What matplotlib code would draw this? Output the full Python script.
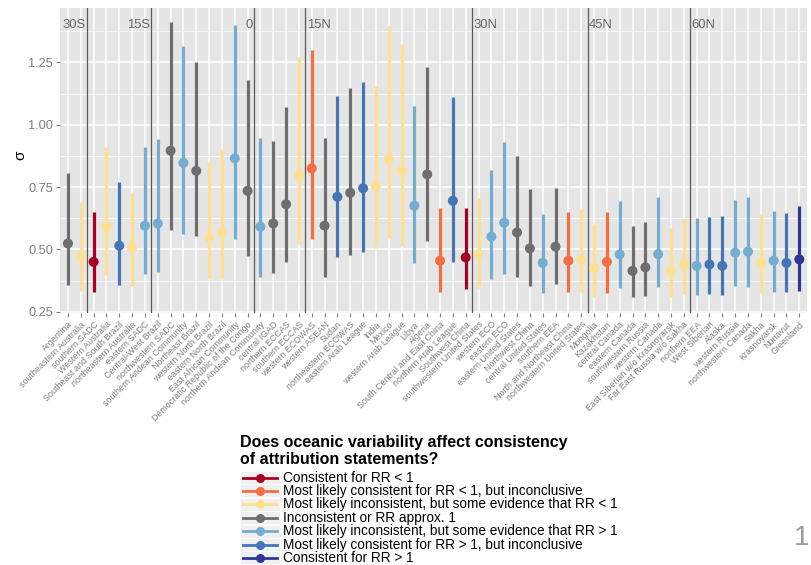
import numpy as np
import matplotlib
matplotlib.use('Agg')
import matplotlib.pyplot as plt
from matplotlib.lines import Line2D
from matplotlib.patches import Rectangle

plt.rcParams['font.family'] = ['Liberation Sans', 'DejaVu Sans']

regions = [
    'Argentina', 'southeastern Australia', 'southern SADC', 'Western Australia',
    'Southeast and South Brazil', 'northeastern Australia', 'eastern SADC',
    'Central-West Brazil', 'northwestern SADC', 'southern Andean Community',
    'Northeast Brazil', 'western North Brazil', 'eastern North Brazil',
    'East African Community', 'Democratic Republic of the Congo',
    'northern Andean Community', 'central IGAD', 'northern ECCAS', 'southern ECCAS',
    'western ECOWAS', 'western ASEAN', 'Sudan', 'northeastern ECOWAS',
    'eastern Arab League', 'India', 'Mexico', 'western Arab League', 'Libya',
    'Algeria', 'South Central and East China', 'northern Arab League',
    'Southwest China', 'southwestern United States', 'western ECO', 'eastern ECO',
    'eastern United States', 'Northwest China', 'central United States',
    'southern EEA', 'North and Northeast China', 'northwestern United States',
    'Mongolia', 'Kazakhstan', 'central Canada', 'eastern Canada',
    'southwestern Russia', 'western Canada', 'East Siberian w/o Krasnoyarsk',
    'Far East Russia w/o Sakha', 'northern EEA', 'West Siberian', 'Alaska',
    'western Russia', 'northwestern Canada', 'Sakha', 'Krasnoyarsk', 'Nunavut',
    'Greenland',
]

# index into legend classes below
status = [3, 2, 0, 2, 5, 2, 4, 4, 3, 4, 3, 2, 2, 4, 3, 4, 3, 3, 2, 1,
          3, 5, 3, 5, 2, 2, 2, 4, 3, 1, 5, 0, 2, 4, 4, 3, 3, 4, 3, 1,
          2, 2, 1, 4, 3, 3, 4, 2, 2, 4, 5, 5, 4, 4, 2, 4, 5, 6]

sigma = [0.524, 0.470, 0.450, 0.591, 0.515, 0.508, 0.595, 0.604, 0.896, 0.847,
         0.815, 0.547, 0.567, 0.865, 0.735, 0.591, 0.604, 0.681, 0.795, 0.825,
         0.595, 0.711, 0.727, 0.745, 0.755, 0.861, 0.815, 0.675, 0.801, 0.455,
         0.695, 0.468, 0.480, 0.551, 0.607, 0.568, 0.504, 0.446, 0.511, 0.455,
         0.460, 0.424, 0.450, 0.480, 0.414, 0.428, 0.481, 0.414, 0.440, 0.434,
         0.440, 0.434, 0.487, 0.491, 0.446, 0.455, 0.446, 0.460]

sigma_hi = [0.805, 0.691, 0.651, 0.909, 0.771, 0.725, 0.909, 0.942, 1.410, 1.315,
            1.252, 0.851, 0.901, 1.400, 1.179, 0.945, 0.936, 1.072, 1.270, 1.299,
            0.945, 1.116, 1.148, 1.172, 1.156, 1.397, 1.322, 1.075, 1.232, 0.665,
            1.110, 0.665, 0.707, 0.818, 0.929, 0.874, 0.742, 0.642, 0.745, 0.651,
            0.661, 0.602, 0.651, 0.694, 0.594, 0.611, 0.709, 0.584, 0.620, 0.624,
            0.631, 0.634, 0.698, 0.711, 0.642, 0.655, 0.645, 0.675]

sigma_lo = [0.357, 0.334, 0.328, 0.397, 0.357, 0.354, 0.401, 0.410, 0.578, 0.561,
            0.553, 0.380, 0.380, 0.541, 0.473, 0.390, 0.406, 0.450, 0.521, 0.540,
            0.388, 0.471, 0.477, 0.488, 0.508, 0.544, 0.513, 0.446, 0.535, 0.330,
            0.450, 0.340, 0.344, 0.380, 0.401, 0.390, 0.354, 0.324, 0.361, 0.330,
            0.330, 0.310, 0.324, 0.344, 0.308, 0.314, 0.348, 0.308, 0.320, 0.317,
            0.321, 0.317, 0.353, 0.348, 0.324, 0.328, 0.328, 0.334]

lat_pos = [1.5, 6.5, 14.5, 18.5, 31.5, 40.5, 48.5]
lat_labels = ['30S', '15S', '0', '15N', '30N', '45N', '60N']

legend_title = 'Does oceanic variability affect consistency\nof attribution statements?'
legend_labels = [
    'Consistent for RR < 1',
    'Most likely consistent for RR < 1, but inconclusive',
    'Most likely inconsistent, but some evidence that RR < 1',
    'Inconsistent or RR approx. 1',
    'Most likely inconsistent, but some evidence that RR > 1',
    'Most likely consistent for RR > 1, but inconclusive',
    'Consistent for RR > 1',
]
palette = ['#A50026', '#F46D43', '#FEE090', '#6E6E6E', '#74ADD1', '#4575B4', '#313695']

W, H = 811, 565
fig = plt.figure(figsize=(W / 100, H / 100), dpi=100)
ax = fig.add_axes([60 / W, 1 - 313 / H, (807 - 60) / W, (313 - 8) / H])
ax.set_facecolor('#E5E5E5')
for s in ax.spines.values():
    s.set_visible(False)

x = np.arange(len(regions))
cols = [palette[k] for k in status]

ax.set_xlim(-0.62, 57.6)
ax.set_ylim(0.245, 1.468)
ax.set_yticks([0.25, 0.5, 0.75, 1.0, 1.25])
ax.set_yticklabels(['0.25', '0.50', '0.75', '1.00', '1.25'])
ax.set_yticks([0.375, 0.625, 0.875, 1.125, 1.375], minor=True)
ax.set_xticks(x)
ax.set_xticklabels(regions, rotation=45, ha='right', rotation_mode='anchor')
ax.grid(which='major', color='white', lw=1.1)
ax.grid(which='minor', axis='y', color='white', lw=0.5)
ax.set_axisbelow(True)
ax.tick_params(axis='both', which='major', color='#7F7F7F', length=3, width=0.8,
               labelcolor='#7F7F7F')
ax.tick_params(axis='y', labelsize=9.2, pad=2)
ax.tick_params(axis='x', labelsize=6.4, pad=2)
ax.tick_params(which='minor', length=0)

for p, lab in zip(lat_pos, lat_labels):
    ax.axvline(p, color='#5A5A5A', lw=0.9, zorder=1)
    if lab.endswith('N'):
        ax.text(p + 0.12, 1.40, lab, ha='left', va='center', fontsize=9.4, color='#666666')
    else:
        ax.text(p - 0.12, 1.40, lab, ha='right', va='center', fontsize=9.4, color='#666666')

ax.vlines(x, sigma_lo, sigma_hi, colors=cols, lw=2.3, zorder=3)
ax.scatter(x, sigma, s=52, c=cols, zorder=4, linewidths=0)

fig.text(20 / W, 1 - 155 / H, 'σ', rotation=90, ha='center', va='center', fontsize=11)

# legend drawn by hand to mimic the ggplot guide
fig.text(240 / W, 1 - 435 / H, legend_title, ha='left', va='top', fontsize=11.5,
         fontweight='bold', linespacing=1.15)
for i, (lab, c) in enumerate(zip(legend_labels, palette)):
    yc = 1 - (477.5 + i * 13.4) / H
    fig.patches.append(Rectangle((240 / W, yc - 6.5 / H), 40 / W, 13 / H,
                                 transform=fig.transFigure, facecolor='#F0F0F0',
                                 edgecolor='white', lw=0.5))
    fig.lines.append(Line2D([243 / W, 277 / W], [yc, yc], transform=fig.transFigure,
                            color=c, lw=2.0))
    fig.lines.append(Line2D([259.5 / W], [yc], transform=fig.transFigure, color=c,
                            marker='o', markersize=6.5, markeredgewidth=0))
    fig.text(283 / W, yc, lab, ha='left', va='center', fontsize=9.8)

fig.text(809 / W, 1 - 538 / H, '1', ha='right', va='center', fontsize=20, color='#999999')

fig.savefig('out.png', dpi=100)
